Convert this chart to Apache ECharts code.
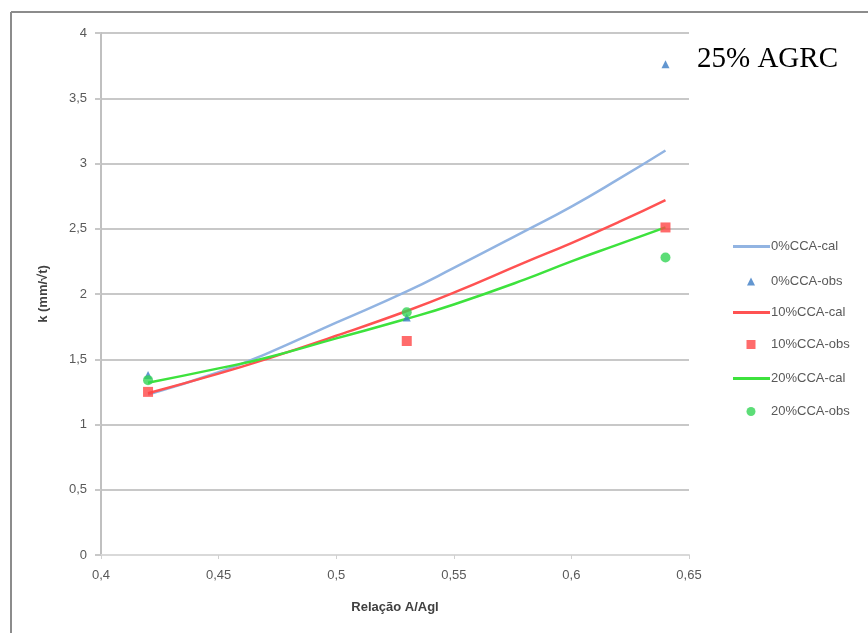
<!DOCTYPE html>
<html>
<head>
<meta charset="utf-8">
<script src="https://cdn.jsdelivr.net/npm/echarts@6/dist/echarts.min.js"></script>
<style>
  html, body { margin: 0; padding: 0; background: #fff; }
  #main { width: 868px; height: 633px; }
</style>
</head>
<body>
<div id="main"></div>
<script>
// valores
const xCal = [0.42, 0.45, 0.47, 0.5, 0.53, 0.55, 0.58, 0.6, 0.62, 0.64]
const cal0 = [1.23, 1.40, 1.54, 1.78, 2.02, 2.20, 2.48, 2.67, 2.88, 3.10]
const cal10 = [1.24, 1.39, 1.50, 1.68, 1.87, 2.01, 2.24, 2.39, 2.55, 2.72]
const cal20 = [1.32, 1.43, 1.51, 1.66, 1.81, 1.92, 2.11, 2.25, 2.38, 2.51]
const xObs = [0.42, 0.53, 0.64]
const obs0 = [1.38, 1.82, 3.76]
const obs10 = [1.25, 1.64, 2.51]
const obs20 = [1.34, 1.86, 2.28]
const seriesNames = ['0%CCA-cal', '0%CCA-obs', '10%CCA-cal', '10%CCA-obs', '20%CCA-cal', '20%CCA-obs']

function pairs (xs, ys) {
  return xs.map(function (x, i) { return [x, ys[i]] })
}
function comma (v) {
  return String(v).replace('.', ',')
}

let font = 'Liberation Sans, Arial, sans-serif'
let legendText = { color: '#595959', fontSize: 13, fontFamily: font }

// uma legenda por item (linhas largas, marcadores pequenos)
function lineLegend (name, top) {
  return {
    orient: 'vertical', left: 728, top: top, itemWidth: 37, itemHeight: 3, icon: 'rect',
    data: [name], textStyle: Object.assign({ padding: [0, 0, 0, -4] }, legendText)
  }
}
function markLegend (name, top, size) {
  return {
    orient: 'vertical', left: 746 - size / 2, top: top, itemWidth: size, itemHeight: size,
    data: [name], textStyle: Object.assign({ padding: [0, 0, 0, 15 - size / 2] }, legendText)
  }
}

let myChart = echarts.init(document.getElementById('main'))
let option = {
  animation: false,
  backgroundColor: '#fff',
  grid: { left: 101, right: 179, top: 33, bottom: 78 },
  legend: [
    lineLegend(seriesNames[0], 235),
    markLegend(seriesNames[1], 270, 8),
    lineLegend(seriesNames[2], 301),
    markLegend(seriesNames[3], 333, 9),
    lineLegend(seriesNames[4], 367),
    markLegend(seriesNames[5], 400, 9)
  ],
  graphic: [
    { type: 'line', shape: { x1: 11, y1: 12, x2: 11, y2: 633 }, style: { stroke: '#8c8c8c', lineWidth: 2 } },
    { type: 'line', shape: { x1: 11, y1: 12, x2: 868, y2: 12 }, style: { stroke: '#8c8c8c', lineWidth: 2 } },
    { type: 'text', left: 697, top: 45, style: { text: '25% AGRC', font: '29px "Liberation Serif", "Times New Roman", serif', fill: '#000' } }
  ],
  xAxis: {
    type: 'value',
    min: 0.4,
    max: 0.65,
    interval: 0.05,
    name: 'Relação A/Agl',
    nameLocation: 'middle',
    nameGap: 46,
    nameTextStyle: { color: '#404040', fontWeight: 'bold', fontSize: 13, fontFamily: font },
    axisLine: { lineStyle: { color: '#d9d9d9', width: 2 } },
    axisTick: { show: true, length: 4, lineStyle: { color: '#d0d0d0' } },
    axisLabel: { color: '#595959', fontSize: 13, fontFamily: font, margin: 14, formatter: comma },
    splitLine: { show: false }
  },
  yAxis: {
    type: 'value',
    min: 0,
    max: 4,
    interval: 0.5,
    name: 'k (mm/√t)',
    nameLocation: 'middle',
    nameGap: 51,
    nameTextStyle: { color: '#404040', fontWeight: 'bold', fontSize: 13, fontFamily: font },
    axisLine: { show: true, lineStyle: { color: '#c0c0c0', width: 2 } },
    axisTick: { show: true, length: 6, lineStyle: { color: '#c8c8c8', width: 2 } },
    axisLabel: { color: '#595959', fontSize: 13, fontFamily: font, margin: 14, formatter: comma },
    splitLine: { show: true, lineStyle: { color: '#c8c8c8', width: 2 } }
  },
  series: [
    {
      name: seriesNames[0], type: 'line', smooth: true, showSymbol: false,
      data: pairs(xCal, cal0), lineStyle: { color: '#92b4e2', width: 2.5 }, itemStyle: { color: '#92b4e2' }, z: 2
    },
    {
      name: seriesNames[1], type: 'scatter', symbol: 'triangle', symbolSize: 8,
      data: pairs(xObs, obs0), itemStyle: { color: '#3b7cc4' }, z: 3
    },
    {
      name: seriesNames[2], type: 'line', smooth: true, showSymbol: false,
      data: pairs(xCal, cal10), lineStyle: { color: '#ff5252', width: 2.5 }, itemStyle: { color: '#ff5252' }, z: 2
    },
    {
      name: seriesNames[3], type: 'scatter', symbol: 'rect', symbolSize: 10,
      data: pairs(xObs, obs10), itemStyle: { color: '#ff4646' }, z: 4
    },
    {
      name: seriesNames[4], type: 'line', smooth: true, showSymbol: false,
      data: pairs(xCal, cal20), lineStyle: { color: '#3de23d', width: 2.5 }, itemStyle: { color: '#3de23d' }, z: 2
    },
    {
      name: seriesNames[5], type: 'scatter', symbol: 'circle', symbolSize: 10,
      data: pairs(xObs, obs20), itemStyle: { color: '#33d455' }, z: 5
    }
  ]
}
myChart.setOption(option, true)
</script>
</body>
</html>
